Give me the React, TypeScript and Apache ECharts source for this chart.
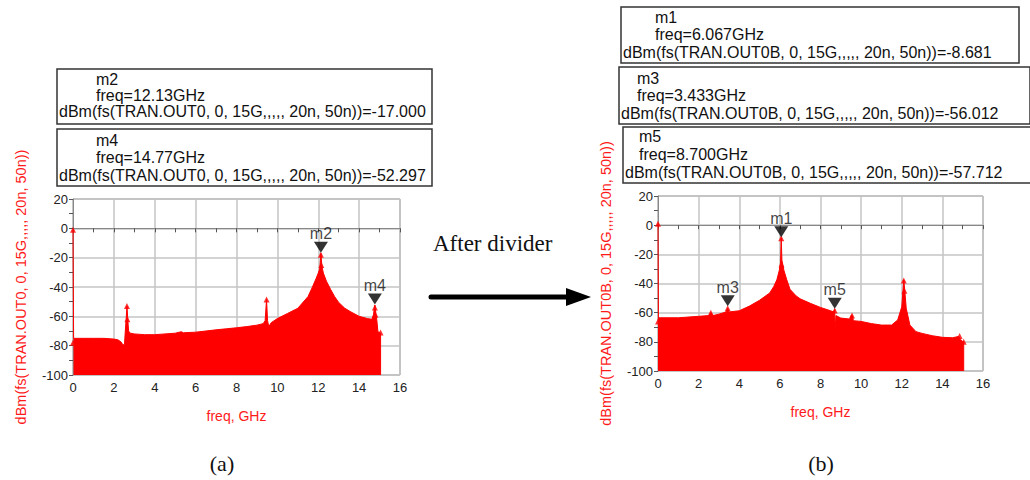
import React, { useEffect, useRef } from 'react';
import * as echarts from 'echarts';

// ---------- data ----------
// (a) spectrum of TRAN.OUT0 : [freq GHz, dBm]
const spectrumA: [number, number][] = [
  [0, -1], [0.03, -75], [0.5, -75], [1, -75], [1.5, -75], [2, -75.5], [2.2, -76], [2.35, -77.5],
  [2.45, -79.5], [2.52, -79], [2.55, -72], [2.6, -62], [2.64, -53], [2.68, -62], [2.72, -70],
  [2.8, -71.5], [3, -72], [3.5, -72.5], [4, -72.5], [4.5, -72], [5, -71.5], [5.3, -70.5],
  [5.4, -71.2], [6, -70.8], [6.5, -70], [7, -69.2], [7.5, -68.5], [8, -67.8], [8.5, -67],
  [9, -66], [9.3, -65], [9.4, -63], [9.47, -48.5], [9.52, -63], [9.58, -67], [9.7, -64.3],
  [10, -61.5], [10.5, -58], [11, -54.5], [11.5, -46.5], [11.7, -40.5], [11.9, -34], [12.0, -30.5],
  [12.08, -27], [12.13, -17], [12.18, -26], [12.25, -30.5], [12.4, -36], [12.6, -41.5], [12.8, -46.5],
  [13.0, -50.5], [13.3, -54.5], [13.6, -57], [14, -60], [14.4, -61.5], [14.62, -62], [14.7, -59],
  [14.77, -52.3], [14.82, -58], [14.87, -63], [14.92, -70.5], [15, -71], [15.05, -71.5], [15.05, -100],
];
const dotsA: [number, number][] = [
  [0, -1], [0, -78], [2.64, -53], [2.66, -62], [9.47, -48.5], [12.13, -18], [12.15, -25],
  [12.1, -31], [14.77, -54], [14.8, -59], [15.05, -71],
];
const markersA = [
  { name: 'm2', value: [12.13, -17.0] },
  { name: 'm4', value: [14.77, -52.297] },
];

// (b) spectrum of TRAN.OUT0B : [freq GHz, dBm]
const spectrumB: [number, number][] = [
  [0, 1], [0.02, -66], [0.05, -63.5], [1, -63.5], [2, -62.5], [2.5, -62], [2.6, -60], [2.7, -62],
  [3, -61], [3.35, -59.5], [3.43, -57], [3.5, -59.5], [4, -58.7], [4.5, -55.5], [5, -51.5],
  [5.5, -46.5], [5.7, -42], [5.85, -37.5], [5.97, -31], [6.03, -26], [6.067, -8.7], [6.1, -24],
  [6.2, -31], [6.34, -37.5], [6.5, -44], [6.8, -48.5], [7, -50.5], [7.5, -53.6], [8, -56.4],
  [8.5, -58.7], [8.65, -59.5], [8.7, -57.7], [8.72, -72], [8.76, -62], [9, -63.7], [9.45, -64.4],
  [9.5, -62], [9.57, -62], [9.62, -65.5], [10, -66], [10.5, -67.5], [11, -68.5], [11.5, -68.5],
  [11.8, -65], [12, -56], [12.1, -37.5], [12.15, -45], [12.22, -57], [12.4, -68.5], [12.7, -73],
  [13, -74.2], [13.5, -75.8], [14, -76.9], [14.5, -77.2], [14.8, -76.3], [14.9, -78.5],
  [15, -79.8], [15.05, -80], [15.05, -100],
];
const dotsB: [number, number][] = [
  [0, 1], [0, -66], [2.6, -60], [3.43, -57], [6.067, -9], [6.08, -27], [8.7, -58.5],
  [9.55, -62], [12.1, -38], [12.13, -45], [14.85, -76], [15.05, -80],
];
const markersB = [
  { name: 'm1', value: [6.067, -8.681] },
  { name: 'm3', value: [3.433, -56.012] },
  { name: 'm5', value: [8.7, -57.712] },
];

const xMin = 0, xMax = 16, xStep = 2;
const yMin = -100, yMax = 20, yStep = 20;

const titleA = 'dBm(fs(TRAN.OUT0, 0, 15G,,,,, 20n, 50n))';
const titleB = 'dBm(fs(TRAN.OUT0B, 0, 15G,,,,, 20n, 50n))';
const xTitle = 'freq, GHz';

const boxesA = [
  { lines: ['m2', 'freq=12.13GHz', 'dBm(fs(TRAN.OUT0, 0, 15G,,,,, 20n, 50n))=-17.000'] },
  { lines: ['m4', 'freq=14.77GHz', 'dBm(fs(TRAN.OUT0, 0, 15G,,,,, 20n, 50n))=-52.297'] },
];
const boxesB = [
  { lines: ['m1', 'freq=6.067GHz', 'dBm(fs(TRAN.OUT0B, 0, 15G,,,,, 20n, 50n))=-8.681'] },
  { lines: ['m3', 'freq=3.433GHz', 'dBm(fs(TRAN.OUT0B, 0, 15G,,,,, 20n, 50n))=-56.012'] },
  { lines: ['m5', 'freq=8.700GHz', 'dBm(fs(TRAN.OUT0B, 0, 15G,,,,, 20n, 50n))=-57.712'] },
];

const FONT = "'Liberation Sans', Arial, sans-serif";
const SERIF = "'Liberation Serif', 'Times New Roman', serif";
const RED = '#ff0000';
const TITLE_RED = '#ff1a1a';

function xAxisCfg(i: number) {
  return {
    type: 'value', gridIndex: i, min: xMin, max: xMax, interval: xStep,
    name: xTitle, nameLocation: 'middle', nameGap: 34,
    nameTextStyle: { color: TITLE_RED, fontSize: 14, fontFamily: FONT },
    axisLine: { show: true, lineStyle: { color: '#888', width: 1 } },
    axisTick: { show: true, inside: false, length: 4, lineStyle: { color: '#555' } },
    minorTick: { show: true, splitNumber: 2, length: 4, lineStyle: { color: '#555' } },
    splitLine: { show: true, lineStyle: { color: '#c4c4c4', width: 1.5 } },
    axisLabel: { color: '#222', fontSize: 13, fontFamily: FONT, margin: 6 },
  };
}
function yAxisCfg(i: number, name: string) {
  return {
    type: 'value', gridIndex: i, min: yMin, max: yMax, interval: yStep,
    name, nameLocation: 'middle', nameRotate: 90, nameGap: 45,
    nameTextStyle: { color: TITLE_RED, fontSize: 14.5, fontFamily: FONT },
    axisLine: { show: true, lineStyle: { color: '#888', width: 1 } },
    axisTick: { show: true, inside: false, length: 4, lineStyle: { color: '#555' } },
    minorTick: { show: true, splitNumber: 2, length: 4, lineStyle: { color: '#555' } },
    splitLine: { show: true, lineStyle: { color: '#c4c4c4', width: 1.5 } },
    axisLabel: { color: '#222', fontSize: 13, fontFamily: FONT, margin: 5 },
  };
}

function seriesFor(i: number, spec: [number, number][], dots: [number, number][], markers: any[]) {
  return [
    {
      type: 'line', xAxisIndex: i, yAxisIndex: i, data: spec, symbol: 'none',
      lineStyle: { color: RED, width: 1 },
      areaStyle: { color: RED, opacity: 1, origin: 'start' },
      z: 2,
    },
    {
      type: 'scatter', xAxisIndex: i, yAxisIndex: i, data: dots, symbol: 'triangle', symbolSize: 6,
      itemStyle: { color: RED }, z: 3,
    },
    {
      type: 'scatter', xAxisIndex: i, yAxisIndex: i, data: markers,
      symbol: 'path://M0,0L14,0L7,11Z', symbolSize: [14, 11], symbolOffset: [0, -6],
      itemStyle: { color: '#000' }, z: 4,
      label: {
        show: true, position: 'top', distance: 0, formatter: (p: any) => p.name,
        color: '#111', fontSize: 16, fontFamily: FONT,
      },
    },
  ];
}

function boxGraphics(boxes: { lines: string[] }[], geo: any[]) {
  const out: any[] = [];
  boxes.forEach((b, k) => {
    const g = geo[k];
    out.push({
      type: 'rect', shape: { x: g.x, y: g.y, width: g.w, height: g.h },
      style: { fill: '#fff', stroke: '#333', lineWidth: 1.5 }, z: 10,
    });
    b.lines.forEach((t, j) => {
      out.push({
        type: 'text', x: j === 2 ? g.tx2 : g.tx1, y: g.ly[j], z: 11,
        style: { text: t, fill: '#111', fontSize: 16, fontFamily: FONT, verticalAlign: 'middle' },
      });
    });
  });
  return out;
}

export default function App() {
  const ref = useRef<HTMLDivElement>(null);
  useEffect(() => {
    if (!ref.current) return;
    const chart = echarts.init(ref.current, null, { renderer: 'svg' });
    const graphics = [
      ...boxGraphics(boxesA, [
        { x: 57, y: 69, w: 375, h: 55, tx1: 96, tx2: 59, ly: [79, 95, 111] },
        { x: 57, y: 129, w: 375, h: 57, tx1: 96, tx2: 59, ly: [140, 157, 175] },
      ]),
      ...boxGraphics(boxesB, [
        { x: 621, y: 7, w: 398, h: 56, tx1: 655, tx2: 623, ly: [17, 34, 52] },
        { x: 619, y: 67, w: 411, h: 57, tx1: 637, tx2: 621, ly: [78, 95, 113] },
        { x: 623, y: 127, w: 412, h: 56, tx1: 639, tx2: 625, ly: [136, 154, 172] },
      ]),
      {
        type: 'text', x: 433, y: 243, z: 11,
        style: { text: 'After divider', fill: '#111', fontSize: 23, fontFamily: SERIF, verticalAlign: 'middle' },
      },
      {
        type: 'line', z: 11, shape: { x1: 431, y1: 297, x2: 570, y2: 297 },
        style: { stroke: '#000', lineWidth: 5, lineCap: 'round' },
      },
      {
        type: 'polygon', z: 11, shape: { points: [[566, 288], [591, 297], [566, 306]] },
        style: { fill: '#000' },
      },
      {
        type: 'text', x: 222, y: 463, z: 11,
        style: { text: '(a)', fill: '#111', fontSize: 22, fontFamily: SERIF, align: 'center', verticalAlign: 'middle' },
      },
      {
        type: 'text', x: 821, y: 463, z: 11,
        style: { text: '(b)', fill: '#111', fontSize: 22, fontFamily: SERIF, align: 'center', verticalAlign: 'middle' },
      },
    ];
    chart.setOption({
      animation: false,
      backgroundColor: '#fff',
      grid: [
        { left: 73, top: 199, width: 327, height: 176, show: true, borderColor: '#888', borderWidth: 1, backgroundColor: 'transparent' },
        { left: 658, top: 196, width: 325, height: 175, show: true, borderColor: '#888', borderWidth: 1, backgroundColor: 'transparent' },
      ],
      xAxis: [xAxisCfg(0), xAxisCfg(1)],
      yAxis: [yAxisCfg(0, titleA), yAxisCfg(1, titleB)],
      series: [
        ...seriesFor(0, spectrumA, dotsA, markersA),
        ...seriesFor(1, spectrumB, dotsB, markersB),
      ],
      graphic: graphics,
    });
    return () => chart.dispose();
  }, []);
  return <div ref={ref} style={{ position: 'absolute', left: 0, top: 0, width: 1030, height: 480 }} />;
}
